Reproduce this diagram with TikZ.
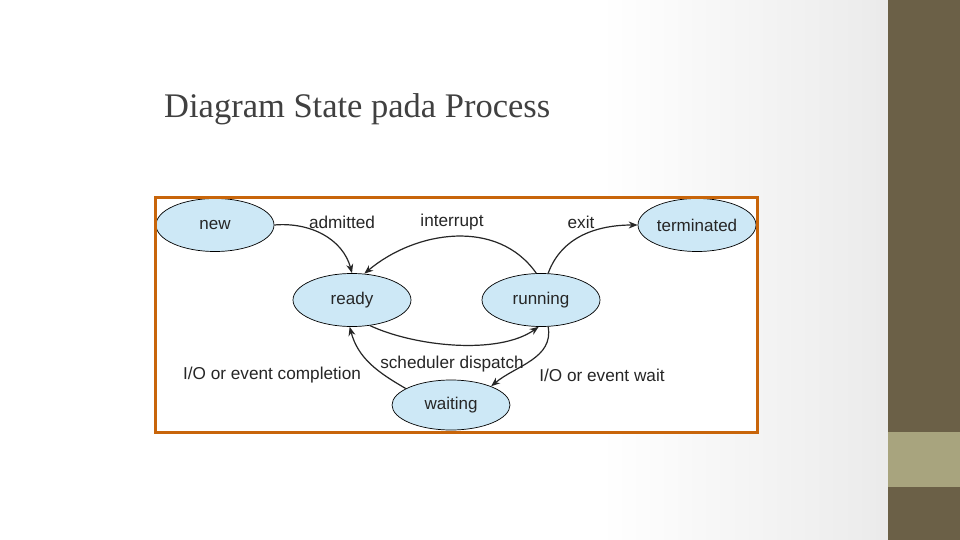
\documentclass[tikz,border=0pt]{standalone}
\usepackage{fontspec}
\setmainfont{Liberation Serif}
\newfontfamily\arialf{Liberation Sans}
\usetikzlibrary{shapes.geometric,arrows.meta}
\definecolor{olive}{HTML}{6B6047}
\definecolor{olivel}{HTML}{A8A47E}
\definecolor{frameor}{HTML}{C8650A}
\definecolor{stfill}{HTML}{CDE8F6}
\begin{document}
\begin{tikzpicture}[x=1pt,y=-1pt,
  st/.style={ellipse,draw=black,line width=0.7pt,fill=stfill,minimum width=118pt,minimum height=53pt,inner sep=0pt,font=\arialf\fontsize{17}{17}\selectfont,text=black!85},
  lbl/.style={font=\arialf\fontsize{17.2}{17.2}\selectfont,text=black!85},
  arr/.style={-{Stealth[length=9pt,width=7pt]},line width=1.2pt,black!85}]
\useasboundingbox (0,0) rectangle (960,540);
\fill[white] (0,0) rectangle (600,540);
\shade[left color=white,right color=black!8] (600,0) rectangle (888,540);
\fill[olive] (888,0) rectangle (960,540);
\fill[olivel] (888,432) rectangle (960,487);
\node[anchor=base west,inner sep=0pt,font=\fontsize{34.5}{34.5}\selectfont,text=black!75] (title) at (164,118) {Diagram State pada Process};
\fill[white] (155,197) rectangle (757,432);
\begin{scope}
\clip (155,197) rectangle (757,432);
\node[st] (new) at (215,225) {new};
\node[st] (term) at (697,225) {terminated};
\node[st] (ready) at (352,300) {ready};
\node[st] (run) at (541,300) {running};
\node[st,minimum height=50pt] (wait) at (451,405) {waiting};
\draw[arr] (new.east) to[out=5,in=105] (ready.north);
\draw[arr] (run.100) to[out=125,in=40] (ready.65);
\draw[arr] (run.75) to[out=70,in=180] (term.west);
\draw[arr] (ready.-55) to[out=-25,in=-145,looseness=0.75] (run.-95);
\draw[arr] (run.-75) to[out=-80,in=40] (wait.25);
\draw[arr] (wait.160) to[out=150,in=-75] (ready.-95);
\end{scope}
\draw[frameor,line width=3pt] (155,197) rectangle (757,432);
\node[lbl] (l1) at (342,222) {admitted};
\node[lbl] (l2) at (452,222) {interrupt};
\node[lbl] (l3) at (581,222) {exit};
\node[lbl] (l4) at (452,364) {scheduler dispatch};
\node[lbl] (l5) at (272,375) {I/O or event completion};
\node[lbl] (l6) at (602,375) {I/O or event wait};
\end{tikzpicture}
\end{document}
